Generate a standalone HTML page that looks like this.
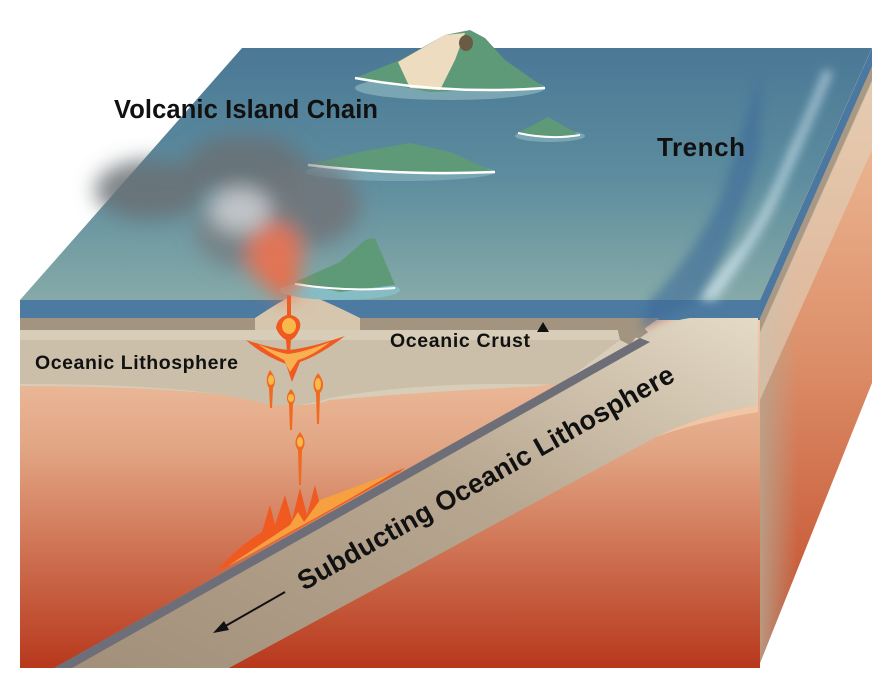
<!DOCTYPE html>
<html><head><meta charset="utf-8"><style>
html,body{margin:0;padding:0;background:#fff;}
svg{display:block;}
text{font-family:"Liberation Sans",sans-serif;fill:#111;}
</style></head><body>
<svg width="888" height="695" viewBox="0 0 888 695" xmlns="http://www.w3.org/2000/svg">
<defs>
<linearGradient id="sea" x1="0" y1="0" x2="0" y2="1">
<stop offset="0" stop-color="#4a7896"/><stop offset="0.5" stop-color="#5c8c9e"/><stop offset="1" stop-color="#86aaa8"/></linearGradient>
<linearGradient id="mantle" x1="0" y1="0" x2="0" y2="1">
<stop offset="0" stop-color="#f4cdb0"/><stop offset="0.4" stop-color="#e2a684"/><stop offset="1" stop-color="#b8381c"/></linearGradient>
<linearGradient id="sideG" x1="0" y1="0" x2="0" y2="1">
<stop offset="0" stop-color="#f2c8a6"/><stop offset="0.5" stop-color="#dc8e68"/><stop offset="1" stop-color="#c04424"/></linearGradient>
<linearGradient id="sideBand" x1="0" y1="0" x2="1" y2="0">
<stop offset="0" stop-color="#b8a48e" stop-opacity="0.9"/><stop offset="1" stop-color="#b8a48e" stop-opacity="0"/></linearGradient>
<linearGradient id="slabG" x1="0" y1="1" x2="1" y2="0">
<stop offset="0" stop-color="#a28f7a"/><stop offset="0.55" stop-color="#b7a690"/><stop offset="1" stop-color="#e4dac6"/></linearGradient>
<clipPath id="sideClip"><polygon points="760,300 872,48 872,383 758,668"/></clipPath>
<filter id="b8"><feGaussianBlur stdDeviation="10"/></filter>
<filter id="b4"><feGaussianBlur stdDeviation="5"/></filter>
</defs>
<polygon points="242,48 872,48 760,300 20,300" fill="url(#sea)"/>
<g clip-path="url(#sideClip)">
<rect x="750" y="40" width="130" height="640" fill="url(#sideG)"/>
<rect x="758" y="40" width="40" height="640" fill="url(#sideBand)"/>
<polygon points="760,300 872,48 872,70 760,322" fill="#4a78a0"/>
<polygon points="760,318 872,66 872,82 760,334" fill="#a89884"/>
<polygon points="760,332 872,80 872,150 760,400" fill="#e0d2bc" opacity="0.6"/>
</g>
<rect x="20" y="300" width="740" height="368" fill="url(#mantle)"/>
<rect x="20" y="300" width="740" height="20" fill="#4d7aa0"/>
<path d="M20,318 L620,318 Q640,320 650,335 L640,338 L20,338 Z" fill="#a39480"/>
<path d="M20,330 L620,330 Q635,336 640,340 L600,370 Q560,384 540,386 Q420,392 330,400 Q300,410 260,400 Q180,386 20,386 Z" fill="#d8cdb8"/>
<path d="M20,340 L620,340 L560,385 Q430,380 330,398 Q290,412 250,400 Q180,384 20,384 Z" fill="#cbbfa9"/>
<path d="M255,318 Q285,298 300,292 Q320,298 360,318 L360,330 L255,330 Z" fill="#d6c6ae"/>
<path d="M615,318 L660,318 Q640,330 630,345 L620,340 Z" fill="#a39480"/>
<path d="M54,668 L640,338 Q660,322 690,318 L758,318 L758,405 Q700,415 656,437 L229,668 Z" fill="url(#slabG)"/>
<path d="M656,437 Q700,415 758,405 L758,412 Q710,420 670,432 Z" fill="#f0c6a6"/>
<polygon points="54,668 640,338 650,342 72,668" fill="#6e6e78"/>
<path d="M215,572 Q240,545 262,532 L270,505 L275,525 L285,495 L292,520 L300,488 L307,515 L315,485 L320,505 Q360,485 405,468 L400,472 Q350,500 300,528 Q250,555 215,572 Z" fill="#f05a20"/>
<path d="M228,566 Q260,545 290,525 L298,512 L304,522 L320,500 Q360,485 395,472 Q340,505 290,532 Q255,552 228,566 Z" fill="#f6a040"/>
<path d="M287,292 L291,292 L291,315 Q302,318 300,328 Q296,338 291,340 L290,352 L287,352 L286,340 Q279,336 276,328 Q277,318 287,315 Z" fill="#f05a20"/>
<ellipse cx="289" cy="326" rx="7" ry="8" fill="#f8b84a"/>
<path d="M246,340 Q270,348 288,350 Q310,348 345,336 Q320,355 300,362 L292,382 L286,364 Q262,355 246,340 Z" fill="#f05a20"/>
<path d="M258,344 Q275,352 288,354 Q305,352 330,342 Q312,356 298,360 L290,372 L284,360 Q268,352 258,344 Z" fill="#f8b050"/>
<g fill="#f06a20">
<path d="M270,370 Q278,380 273,388 L272,408 L270,408 L269,388 Q264,380 270,370 Z"/>
<path d="M318,373 Q327,384 320,393 L319,424 L317,424 L316,393 Q310,384 318,373 Z"/>
<path d="M291,389 Q298,397 293,404 L292,430 L290,430 L289,404 Q284,397 291,389 Z"/>
<path d="M300,432 Q308,442 302,450 L301,485 L299,485 L298,450 Q292,442 300,432 Z"/>
</g>
<g fill="#f8b84a"><ellipse cx="271" cy="380" rx="3" ry="5"/><ellipse cx="318" cy="384" rx="3" ry="6"/><ellipse cx="291" cy="398" rx="3" ry="4"/><ellipse cx="300" cy="442" rx="3" ry="5"/></g>
<path d="M760,70 Q740,140 720,200 Q690,260 650,300 L640,330 L700,300 Q740,230 760,150 Z" fill="#3c6a9a" opacity="0.6" filter="url(#b4)"/>
<path d="M825,70 Q805,120 790,150 Q770,200 745,240 Q720,270 700,300 L715,300 Q745,260 770,215 Q795,160 832,72 Z" fill="#cfe4ee" opacity="0.8" filter="url(#b4)"/>
<g>
<ellipse cx="450" cy="88" rx="95" ry="12" fill="#7aa6b4"/>
<polygon points="355,78 400,60 445,35 470,30 485,38 505,60 545,88 430,92" fill="#5e9a78"/>
<polygon points="398,62 445,35 465,33 455,60 440,90 410,88" fill="#eedcc0"/>
<ellipse cx="466" cy="43" rx="7" ry="8" fill="#6b5a44"/>
<path d="M355,78 Q450,95 545,88" stroke="#fff" stroke-width="2.5" fill="none"/>
<ellipse cx="550" cy="136" rx="35" ry="6" fill="#7aa6b4"/>
<polygon points="518,133 548,117 580,135 548,138" fill="#5e9a78"/>
<path d="M518,133 Q550,140 580,135" stroke="#fff" stroke-width="2" fill="none"/>
<ellipse cx="400" cy="172" rx="95" ry="9" fill="#7aa6b4"/>
<polygon points="308,165 360,152 410,143 450,152 495,172 400,172" fill="#5e9a78"/>
<path d="M308,165 Q400,176 495,172" stroke="#fff" stroke-width="2.5" fill="none"/>
<ellipse cx="340" cy="290" rx="60" ry="10" fill="#86bcc4"/>
<polygon points="295,282 340,262 365,240 375,238 395,285 340,292" fill="#5e9a78"/>
<path d="M295,284 Q345,292 395,288" stroke="#fff" stroke-width="2" fill="none"/>
</g>
<g filter="url(#b8)">
<ellipse cx="150" cy="190" rx="55" ry="30" fill="#6a7074" opacity="0.85"/>
<ellipse cx="245" cy="165" rx="60" ry="30" fill="#6a7074" opacity="0.85"/>
<ellipse cx="310" cy="205" rx="50" ry="40" fill="#70767a" opacity="0.9"/>
<ellipse cx="250" cy="230" rx="55" ry="40" fill="#767c80" opacity="0.8"/>
<ellipse cx="240" cy="210" rx="30" ry="22" fill="#c0c4c8"/>
<ellipse cx="275" cy="255" rx="28" ry="32" fill="#e07456"/>
<ellipse cx="285" cy="285" rx="12" ry="14" fill="#f06a40"/>
</g>
<text x="114" y="118" font-size="25.5" font-weight="bold" textLength="264">Volcanic Island Chain</text>
<text x="657" y="156" font-size="26" font-weight="bold" textLength="88">Trench</text>
<text x="35" y="369" font-size="19.5" font-weight="bold" textLength="203">Oceanic Lithosphere</text>
<text x="390" y="347" font-size="19.5" font-weight="bold" textLength="140">Oceanic Crust</text>
<polygon points="537,332 543,322 549,332" fill="#111"/>
<text transform="translate(304,591) rotate(-29.5)" font-size="27" font-weight="bold" textLength="428">Subducting Oceanic Lithosphere</text>
<line x1="285" y1="592" x2="222" y2="628" stroke="#111" stroke-width="2"/>
<polygon points="213,633 224,621 229,630" fill="#111"/>
</svg>
</body></html>
